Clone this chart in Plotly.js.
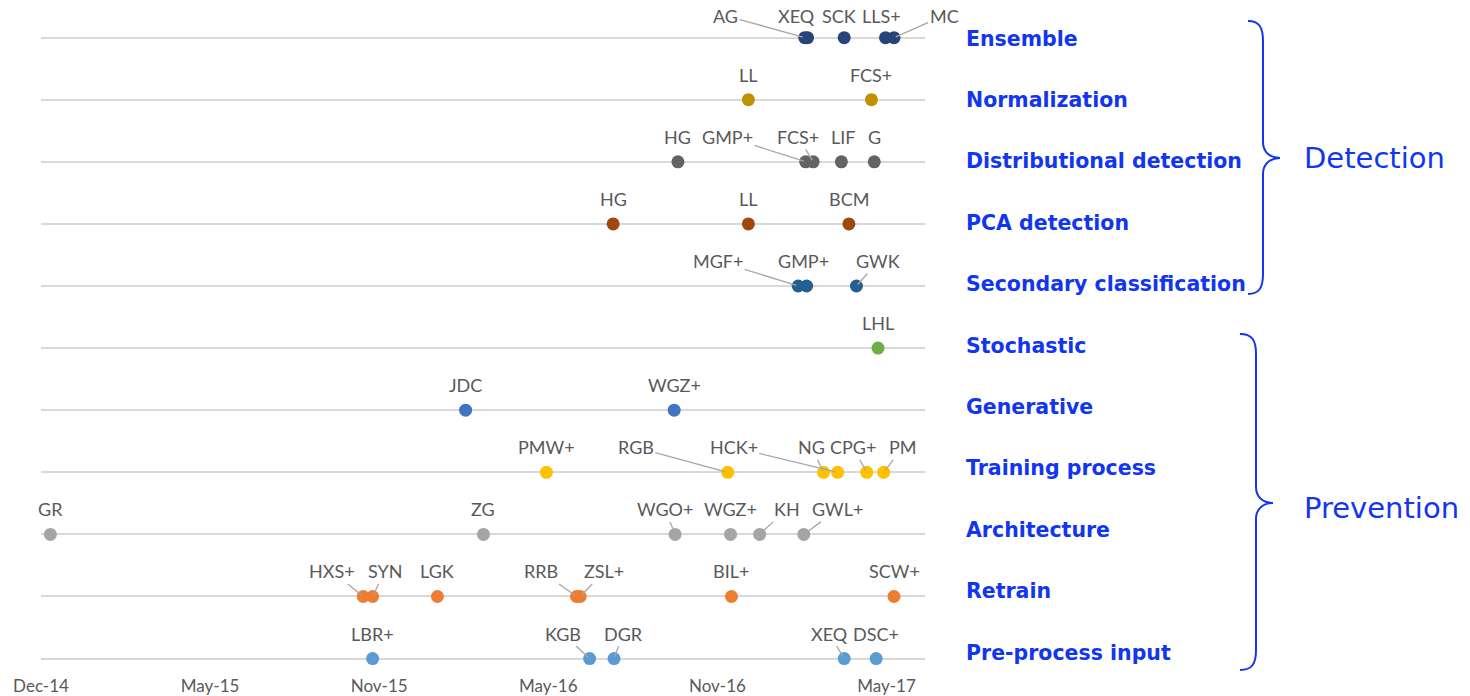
<!DOCTYPE html>
<html>
<head>
<meta charset="utf-8">
<script src="https://cdn.plot.ly/plotly-3.0.1.min.js"></script>
<style>html,body{margin:0;padding:0;background:#fff;}#chart{width:1470px;height:696px;}</style>
</head>
<body>
<div id="chart"></div>
<script>
// ---------- DATA ----------
const categories = ["Ensemble","Normalization","Distributional detection","PCA detection","Secondary classification","Stochastic","Generative","Training process","Architecture","Retrain","Pre-process input"];
const groupNames = ["Detection","Prevention"];
const tickDates = ["2014-12-01","2015-05-30","2015-11-26","2016-05-24","2016-11-20","2017-05-19"];
const tickLabels = ["Dec-14","May-15","Nov-15","May-16","Nov-16","May-17"];

const ensembleLabels = ["AG","XEQ","SCK","LLS+","MC"];
const ensembleDates = ["2017-02-21","2017-02-24","2017-04-04","2017-05-18","2017-05-27"];
const normalizationLabels = ["LL","FCS+"];
const normalizationDates = ["2016-12-23","2017-05-03"];
const distributionalLabels = ["HG","GMP+","FCS+","LIF","G"];
const distributionalDates = ["2016-10-09","2017-02-22","2017-03-02","2017-04-01","2017-05-06"];
const pcaLabels = ["HG","LL","BCM"];
const pcaDates = ["2016-08-01","2016-12-23","2017-04-09"];
const secondaryLabels = ["MGF+","GMP+","GWK"];
const secondaryDates = ["2017-02-14","2017-02-23","2017-04-17"];
const stochasticLabels = ["LHL"];
const stochasticDates = ["2017-05-10"];
const generativeLabels = ["JDC","WGZ+"];
const generativeDates = ["2016-02-26","2016-10-05"];
const trainingLabels = ["PMW+","RGB","NG","HCK+","CPG+","PM"];
const trainingDates = ["2016-05-22","2016-12-01","2017-03-13","2017-03-28","2017-04-28","2017-05-16"];
const architectureLabels = ["GR","ZG","WGO+","WGZ+","KH","GWL+"];
const architectureDates = ["2014-12-11","2016-03-16","2016-10-06","2016-12-04","2017-01-04","2017-02-20"];
const retrainLabels = ["HXS+","SYN","LGK","RRB","ZSL+","BIL+","SCW+"];
const retrainDates = ["2015-11-09","2015-11-19","2016-01-27","2016-06-23","2016-06-27","2016-12-05","2017-05-27"];
const preprocessLabels = ["LBR+","KGB","DGR","XEQ","DSC+"];
const preprocessDates = ["2015-11-19","2016-07-07","2016-08-02","2017-04-04","2017-05-08"];

// ---------- STYLE ----------
const rowColors = ["#264478","#bf9000","#636363","#9e480e","#255e91","#70ad47","#4472c4","#ffc000","#a5a5a5","#ed7d31","#5b9bd5"];
// label placement (pixel offsets of data labels from their point) and leader-line flags
const labelShiftX = [
  [-79,-11,-5,-4,50],
  [0,0],
  [0,-78,-15,2,0],
  [0,0,0],
  [-80,-3,22],
  [0],
  [0,0],
  [0,-92,-12,-104,-14,19],
  [0,0,-10,0,27,34],
  [-31,12,0,-35,24,0,0],
  [0,-27,9,-15,0]
];
const leaderOn = [
  [1,0,0,0,1],
  [0,0],
  [0,1,1,0,0],
  [0,0,0],
  [1,0,1],
  [0],
  [0,0],
  [0,1,1,1,1,1],
  [0,0,1,0,1,1],
  [1,1,0,1,1,0,0],
  [0,1,1,1,0]
];
const labelShiftY = [-22,-25,-25,-25,-25,-25,-25,-25,-25,-25,-25];

const rowDates = [ensembleDates,normalizationDates,distributionalDates,pcaDates,secondaryDates,stochasticDates,generativeDates,trainingDates,architectureDates,retrainDates,preprocessDates];
const rowLabels = [ensembleLabels,normalizationLabels,distributionalLabels,pcaLabels,secondaryLabels,stochasticLabels,generativeLabels,trainingLabels,architectureLabels,retrainLabels,preprocessLabels];

const W = 1470, H = 696;
const M = {l:41, r:545, t:19, b:25};
const PW = W - M.l - M.r, PH = H - M.t - M.b;
const px2x = px => (px - M.l) / PW;
const py2y = py => 1 - (py - M.t) / PH;

const blue = "#1236f0";
const nRows = categories.length;

const traces = [];
const annotations = [];
categories.forEach((cat, i) => {
  const yv = nRows - 1 - i;
  const xs = rowDates[i];
  traces.push({
    type: "scatter", mode: "markers", name: cat,
    x: xs, y: xs.map(() => yv),
    marker: {size: 13, color: rowColors[i]},
    cliponaxis: false, hoverinfo: "skip", showlegend: false
  });
  rowLabels[i].forEach((lab, j) => {
    annotations.push({
      x: xs[j], y: yv, xref: "x", yref: "y",
      text: lab, showarrow: true, arrowhead: 0, standoff: 2,
      arrowwidth: 1.3,
      arrowcolor: leaderOn[i][j] ? "#a6a6a6" : "rgba(0,0,0,0)",
      ax: labelShiftX[i][j], ay: labelShiftY[i],
      font: {family: "Lato, 'Open Sans', sans-serif", size: 18, color: "#595959"}
    });
  });
  annotations.push({
    xref: "paper", yref: "paper", x: px2x(964), y: py2y(38.5 + 61.4 * i),
    xanchor: "left", yanchor: "middle", showarrow: false, text: "<b>" + cat + "</b>",
    font: {family: "'DejaVu Sans', Verdana, sans-serif", size: 20.5, color: blue}
  });
});

const groupY = [158, 508];
groupNames.forEach((g, k) => {
  annotations.push({
    xref: "paper", yref: "paper", x: px2x(1302), y: py2y(groupY[k]),
    xanchor: "left", yanchor: "middle", showarrow: false, text: g,
    font: {family: "'DejaVu Sans', Verdana, sans-serif", size: 29, color: blue}
  });
});

function bracePath(x0, xv, xt, yTop, yTip, yBot) {
  const P = (x, y) => px2x(x).toFixed(5) + "," + py2y(y).toFixed(5);
  return "M " + P(x0, yTop) +
    " C " + P(xv - 4, yTop) + " " + P(xv, yTop + 6) + " " + P(xv, yTop + 20) +
    " L " + P(xv, yTip - 16) +
    " C " + P(xv, yTip - 6) + " " + P(xv + 7, yTip) + " " + P(xt, yTip) +
    " C " + P(xv + 7, yTip) + " " + P(xv, yTip + 6) + " " + P(xv, yTip + 16) +
    " L " + P(xv, yBot - 20) +
    " C " + P(xv, yBot - 6) + " " + P(xv - 4, yBot) + " " + P(x0, yBot);
}
const shapes = [
  {type: "path", xref: "paper", yref: "paper", path: bracePath(1248, 1263, 1280, 21, 158, 294), line: {color: blue, width: 2}},
  {type: "path", xref: "paper", yref: "paper", path: bracePath(1240, 1256, 1273, 334, 503, 670), line: {color: blue, width: 2}}
];

const layout = {
  width: W, height: H, margin: M,
  paper_bgcolor: "#ffffff", plot_bgcolor: "#ffffff",
  showlegend: false,
  xaxis: {
    type: "date", range: ["2014-12-01", "2017-06-29"],
    tickmode: "array", tickvals: tickDates, ticktext: tickLabels,
    showgrid: false, zeroline: false, showline: false, ticks: "",
    ticklabelstandoff: 3,
    tickfont: {family: "Lato, 'Open Sans', sans-serif", size: 17, color: "#595959"}
  },
  yaxis: {
    range: [-0.2, 10.3], tickmode: "linear", tick0: 0, dtick: 1,
    showgrid: true, gridcolor: "#d9d9d9", gridwidth: 2,
    zeroline: false, showline: false, showticklabels: false, ticks: ""
  },
  shapes: shapes,
  annotations: annotations
};

Plotly.newPlot("chart", traces, layout, {staticPlot: true, displayModeBar: false});
</script>
</body>
</html>
